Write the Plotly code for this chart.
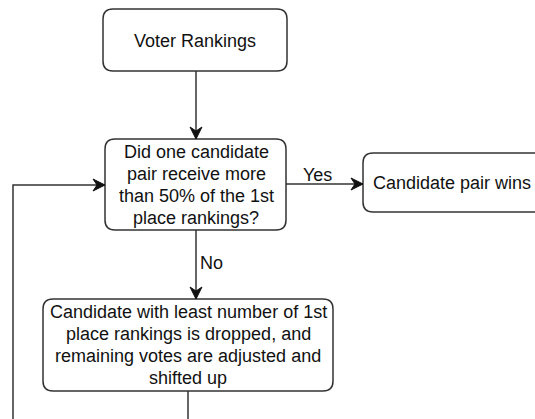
import plotly.graph_objects as go

# ---- flowchart content ----
node_ids = ["voter", "decide", "drop", "wins"]
node_labels = [
    "Voter Rankings",
    "Did one candidate<br>pair receive more<br>than 50% of the 1st<br>place rankings?",
    "Candidate with least number of 1st<br>place rankings is dropped, and<br>remaining votes are adjusted and<br>shifted up",
    "Candidate pair wins",
]
edge_labels = ["", "Yes", "No"]

# ---- geometry (pixel space of the 535x419 canvas) ----
W, H = 535, 419
boxes = {  # x0, y0, x1, y1
    "voter": (103, 9, 287, 71),
    "decide": (105, 139, 286, 230),
    "drop": (43, 299, 333, 391),
    "wins": (363, 153, 547, 212),
}
text_pos = {
    "voter": (195, 41),
    "decide": (196, 185),
    "drop": (188, 345),
    "wins": (452, 183),
}
LINE = "#333333"
TXT = "#111111"
FONT = "Liberation Sans, Arial, sans-serif"
FS = 18
LH = 22


def rrect(x0, y0, x1, y1, r=10):
    return (f"M {x0+r},{y0} L {x1-r},{y0} Q {x1},{y0} {x1},{y0+r} "
            f"L {x1},{y1-r} Q {x1},{y1} {x1-r},{y1} L {x0+r},{y1} "
            f"Q {x0},{y1} {x0},{y1-r} L {x0},{y0+r} Q {x0},{y0} {x0+r},{y0} Z")


def arrowhead(x, y, d, L=12, w=6, n=4):
    if d == "down":
        pts = [(x, y), (x - w, y - L), (x, y - L + n), (x + w, y - L)]
    else:  # right
        pts = [(x, y), (x - L, y - w), (x - L + n, y), (x - L, y + w)]
    return "M " + " L ".join(f"{a},{b}" for a, b in pts) + " Z"


shapes = []
for nid in node_ids:
    shapes.append(dict(type="path", path=rrect(*boxes[nid]), xref="x", yref="y",
                       line=dict(color=LINE, width=1.5), fillcolor="white", layer="below"))

# connectors (polylines) + arrowheads
polylines = [
    [(196, 71), (196, 139)],                 # voter -> decide
    [(286, 184), (363, 184)],                # decide -> wins (Yes)
    [(196, 230), (196, 299)],                # decide -> drop (No)
    [(188, 391), (188, H + 5)],              # drop -> down (cropped)
    [(13, H + 5), (13, 185), (105, 185)],    # loop back -> decide
]
heads = [(196, 139, "down"), (363, 184, "right"), (196, 299, "down"), (105, 185, "right")]

for pl in polylines:
    path = "M " + " L ".join(f"{a},{b}" for a, b in pl)
    shapes.append(dict(type="path", path=path, xref="x", yref="y",
                       line=dict(color=LINE, width=1.5)))
for hx, hy, d in heads:
    shapes.append(dict(type="path", path=arrowhead(hx, hy, d), xref="x", yref="y",
                       line=dict(color="#111111", width=1), fillcolor="#111111"))

annotations = []
for nid, lab in zip(node_ids, node_labels):
    tx, ty = text_pos[nid]
    lines = lab.split("<br>")
    n = len(lines)
    for i, ln in enumerate(lines):
        annotations.append(dict(x=tx, y=ty + (i - (n - 1) / 2) * LH, text=ln,
                                showarrow=False, xref="x", yref="y",
                                font=dict(family=FONT, size=FS, color=TXT)))

annotations.append(dict(x=317, y=175, text=edge_labels[1], showarrow=False,
                        font=dict(family=FONT, size=FS, color=TXT)))
annotations.append(dict(x=211, y=263, text=edge_labels[2], showarrow=False,
                        font=dict(family=FONT, size=FS, color=TXT)))

fig = go.Figure()
fig.update_layout(
    width=W, height=H, margin=dict(l=0, r=0, t=0, b=0),
    paper_bgcolor="white", plot_bgcolor="white",
    xaxis=dict(range=[0, W], visible=False, fixedrange=True),
    yaxis=dict(range=[H, 0], visible=False, fixedrange=True),
    shapes=shapes, annotations=annotations, showlegend=False,
)
fig.write_html("out.html", config={"displayModeBar": False},
               post_script="document.body.style.margin='0';document.body.style.overflow='hidden';")
